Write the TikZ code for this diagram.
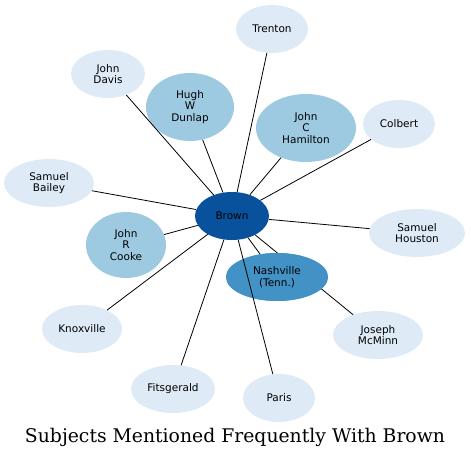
\documentclass[tikz,border=0pt]{standalone}
\usepackage{fontspec}
\newfontfamily\nodefont{DejaVu Sans}
\newfontfamily\titlefont{DejaVu Serif}
\usetikzlibrary{shapes.geometric}
\definecolor{cLight}{HTML}{DEEBF7}
\definecolor{cMid}{HTML}{9ECAE1}
\definecolor{cNash}{HTML}{4292C6}
\definecolor{cBrown}{HTML}{08519C}
\tikzset{
  ent/.style={ellipse, inner sep=0pt, align=center, font=\nodefont\fontsize{10.5}{11.7}\selectfont, text=black},
  lite/.style={ent, fill=cLight},
  mid/.style={ent, fill=cMid},
  nashstyle/.style={ent, fill=cNash, minimum width=102pt, minimum height=48pt},
  link/.style={draw=black, line width=0.8pt}
}
\begin{document}
\begin{tikzpicture}[x=1pt,y=-1pt]
\useasboundingbox (0,0) rectangle (471,458);
\node[ent, fill=cBrown, minimum width=74pt, minimum height=48pt] (brown) at (232,216) {Brown};
\node[lite, minimum width=72pt, minimum height=48pt] (trenton) at (272,29) {Trenton};
\node[lite, minimum width=74pt, minimum height=48pt] (jdavis) at (108,74) {John\\Davis};
\node[mid, minimum width=88pt, minimum height=68pt] (dunlap) at (190,107) {Hugh\\W\\Dunlap};
\node[mid, minimum width=100pt, minimum height=68pt] (hamilton) at (306,128) {John\\C\\Hamilton};
\node[lite, minimum width=72pt, minimum height=48pt] (colbert) at (399,124) {Colbert};
\node[lite, minimum width=90pt, minimum height=48pt] (bailey) at (49,183) {Samuel\\Bailey};
\node[mid, minimum width=80pt, minimum height=66pt] (cooke) at (126,245) {John\\R\\Cooke};
\node[lite, minimum width=96pt, minimum height=48pt] (houston) at (417,233) {Samuel\\Houston};
\node[lite, minimum width=80pt, minimum height=48pt] (knox) at (82,329) {Knoxville};
\node[lite, minimum width=90pt, minimum height=48pt] (mcminn) at (378,335) {Joseph\\McMinn};
\node[lite, minimum width=84pt, minimum height=48pt] (fitz) at (173,389) {Fitsgerald};
\node[lite, minimum width=72pt, minimum height=48pt] (paris) at (279,398) {Paris};
\node[nashstyle] (nash) at (277,277) {};
% edges
\foreach \t in {trenton,jdavis,dunlap,hamilton,colbert,bailey,cooke,houston,knox,fitz,nash,mcminn}
  \draw[link] (brown) -- (\t);
% Nashville drawn over the Brown--McMinn edge
\node[nashstyle] (nashtop) at (277,277) {Nashville\\(Tenn.)};
% Brown--Paris edge drawn over Nashville
\draw[link] (brown) -- (paris);
\node[inner sep=0pt] (title) at (235,437) {\resizebox{420pt}{!}{\titlefont\fontsize{20}{24}\selectfont Subjects Mentioned Frequently With Brown}};
\end{tikzpicture}
\end{document}
